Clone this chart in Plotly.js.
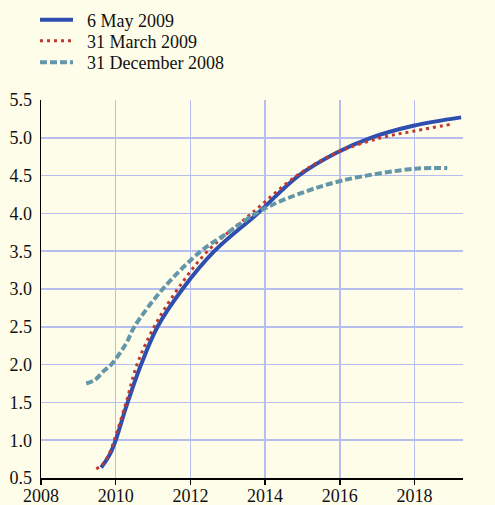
<!DOCTYPE html>
<html>
<head>
<meta charset="utf-8">
<script src="https://cdn.plot.ly/plotly-3.0.1.min.js"></script>
<style>html,body{margin:0;padding:0;background:#fefde9;}</style>
</head>
<body>
<div id="chart" style="width:495px;height:505px;"></div>
<script>
// 6 May 2009
const mayYears = [2009.61, 2009.7, 2009.85, 2010.0, 2010.3, 2010.68, 2011.12, 2011.79, 2012.64, 2013.8, 2014.9, 2015.9, 2016.83, 2017.97, 2019.25];
const mayValues = [0.64, 0.70, 0.82, 1.0, 1.47, 2.0, 2.5, 3.0, 3.5, 4.0, 4.5, 4.8, 5.0, 5.16, 5.27];
// 31 March 2009
const marYears = [2009.48, 2009.65, 2009.85, 2009.96, 2010.28, 2010.57, 2011.03, 2011.66, 2012.46, 2013.64, 2014.85, 2015.9, 2017.1, 2018.0, 2019.0];
const marValues = [0.62, 0.68, 0.85, 1.0, 1.5, 2.0, 2.5, 3.0, 3.5, 4.0, 4.5, 4.8, 5.0, 5.09, 5.18];
// 31 December 2008
const decYears = [2009.21, 2009.45, 2009.69, 2009.88, 2010.28, 2010.5, 2011.26, 2012.28, 2012.99, 2013.75, 2014.6, 2016.03, 2018.0, 2018.88];
const decValues = [1.75, 1.80, 1.92, 2.0, 2.28, 2.5, 3.0, 3.5, 3.74, 4.0, 4.2, 4.43, 4.59, 4.60];

const seriesNames = ['6 May 2009', '31 March 2009', '31 December 2008'];
const xTicks = [2008, 2010, 2012, 2014, 2016, 2018];
const yTicks = [0.5, 1.0, 1.5, 2.0, 2.5, 3.0, 3.5, 4.0, 4.5, 5.0, 5.5];
const yTickText = yTicks.map(v => v.toFixed(1));

const font = {family: '"Liberation Serif", "Times New Roman", serif', size: 18, color: '#111'};
const pad = '\u2002';

const traces = [
  {x: mayYears, y: mayValues, name: pad + seriesNames[0], mode: 'lines', legend: 'legend',
   line: {color: '#2e4fb0', width: 4, shape: 'spline'}},
  {x: marYears, y: marValues, name: pad + seriesNames[1], mode: 'lines', legend: 'legend2',
   line: {color: '#c0392e', width: 3, dash: '3px,4px', shape: 'spline'}},
  {x: decYears, y: decValues, name: pad + seriesNames[2], mode: 'lines', legend: 'legend3',
   line: {color: '#6396a8', width: 4, dash: '7px,3px', shape: 'spline'}}
];

function legendAt(yTop) {
  return {x: 35 / 495, y: yTop, xref: 'container', yref: 'container', xanchor: 'left', yanchor: 'top',
          bgcolor: 'rgba(0,0,0,0)', font: font, itemwidth: 33};
}

const layout = {
  width: 495, height: 505,
  margin: {l: 41, r: 32, t: 100, b: 27, autoexpand: false},
  paper_bgcolor: '#fefde9', plot_bgcolor: '#fefde9',
  font: font,
  showlegend: true,
  legend: legendAt(0.997),
  legend2: legendAt(0.9554),
  legend3: legendAt(0.9129),
  xaxis: {range: [2008, 2019.3], tickvals: xTicks, ticktext: xTicks.map(String),
          showgrid: true, gridcolor: '#b8bdf0', gridwidth: 1.5,
          showline: true, linecolor: '#000', linewidth: 1.5,
          ticks: 'outside', ticklen: 5, tickcolor: '#000', tickwidth: 1.5, ticklabelstandoff: -4,
          zeroline: false, automargin: false, fixedrange: true},
  yaxis: {range: [0.5, 5.5], tickvals: yTicks, ticktext: yTickText,
          showgrid: true, gridcolor: '#b8bdf0', gridwidth: 1.5,
          showline: true, linecolor: '#000', linewidth: 1.5,
          ticks: '', ticklabelstandoff: 4,
          zeroline: false, automargin: false, fixedrange: true},
  yaxis2: {range: [0.5, 5.5], tickvals: yTicks, ticktext: yTickText,
           overlaying: 'y', side: 'right', anchor: 'x',
           showgrid: false, showline: true, linecolor: '#555', linewidth: 1.5,
           ticks: '', ticklabelstandoff: 4,
           zeroline: false, automargin: false, fixedrange: true}
};

Plotly.newPlot('chart', traces, layout, {displayModeBar: false, staticPlot: true});
</script>
</body>
</html>
